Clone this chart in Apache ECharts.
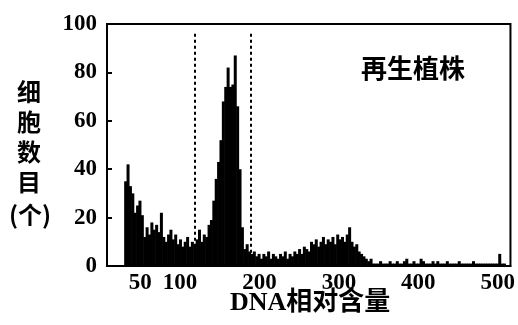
<!DOCTYPE html>
<html>
<head>
<meta charset="utf-8">
<script src="https://cdn.jsdelivr.net/npm/echarts@6/dist/echarts.min.js"></script>
<style>
  html, body { margin: 0; padding: 0; background: #fff; }
  #chart { width: 518px; height: 325px; }
</style>
</head>
<body>
<div id="chart"></div>
<script>
// histogram bins: DNA relative content, 3 units per bin starting at 30
const binStart = 30;
const binWidth = 3;
const cellCounts = [
  35, 42, 33, 30, 22, 25, 27, 21, 12, 16,
  13, 18, 15, 17, 14, 22, 12, 10, 13, 15,
  11, 13, 9, 11, 8, 10, 12, 8, 10, 9,
  11, 15, 10, 13, 12, 17, 19, 27, 36, 43,
  52, 68, 74, 82, 74, 75, 87, 66, 40, 16,
  7, 9, 6, 5, 6, 4, 5, 3, 5, 4,
  6, 3, 5, 4, 3, 5, 4, 6, 3, 5,
  4, 6, 5, 7, 5, 8, 7, 6, 10, 9,
  11, 8, 10, 12, 9, 11, 10, 12, 9, 13,
  11, 12, 10, 13, 16, 10, 8, 9, 6, 5,
  4, 3, 2, 3, 1, 1, 1, 2, 1, 1,
  1, 2, 1, 1, 2, 1, 1, 2, 3, 1,
  1, 2, 1, 1, 3, 2, 1, 1, 1, 2,
  1, 2, 1, 1, 1, 2, 1, 1, 1, 1,
  2, 1, 1, 1, 1, 1, 2, 1, 1, 1,
  1, 1, 1, 1, 1, 1, 1, 5, 1, 1
];
const xTicks = [50, 100, 200, 300, 400, 500];
const gateLines = [119, 189];
const sampleLabel = '再生植株';

const seriesData = cellCounts.map((c, i) => [binStart + binWidth * i + binWidth / 2, c]);

const chart = echarts.init(document.getElementById('chart'));
const serif = '"Liberation Serif", "Noto Sans CJK SC", serif';

chart.setOption({
  animation: false,
  grid: {
    left: 107, right: 7, top: 24, bottom: 59,
    show: true, borderColor: '#000', borderWidth: 2
  },
  xAxis: {
    type: 'value',
    min: 8,
    max: 516,
    axisLine: {lineStyle: {color: '#000', width: 2}},
    axisTick: {show: false},
    splitLine: {show: false},
    axisLabel: {
      customValues: xTicks,
      color: '#000',
      fontFamily: serif,
      fontWeight: 'bold',
      fontSize: 23,
      margin: 6
    }
  },
  yAxis: {
    type: 'value',
    min: 0,
    max: 100,
    interval: 20,
    axisLine: {show: true, lineStyle: {color: '#000', width: 2}},
    axisTick: {show: true, inside: true, length: 5, lineStyle: {color: '#000', width: 2}},
    splitLine: {show: false},
    axisLabel: {
      color: '#000',
      fontFamily: serif,
      fontWeight: 'bold',
      fontSize: 23,
      margin: 10
    }
  },
  series: [{
    type: 'bar',
    data: seriesData,
    barWidth: 3,
    itemStyle: {color: '#000'},
    markLine: {
      silent: true,
      symbol: 'none',
      label: {show: false},
      lineStyle: {color: '#000', type: [3, 3], width: 2},
      data: gateLines.map(v => [{coord: [v, 96]}, {coord: [v, 0]}])
    }
  }],
  graphic: [
    {
      type: 'text', left: 361, top: 55,
      style: {text: sampleLabel, font: 'bold 26px "Noto Sans CJK SC"', fill: '#000'}
    },
    {
      type: 'text', left: 17, top: 77,
      style: {
        text: '细\n胞\n数\n目', font: 'bold 24px "Noto Sans CJK SC"', fill: '#000',
        lineHeight: 30
      }
    },
    {
      type: 'text', left: 9, top: 203,
      style: {text: '(个)', font: 'bold 24px "Noto Sans CJK SC"', fill: '#000'}
    },
    {
      type: 'text', left: 230, top: 290,
      style: {text: 'DNA相对含量', font: 'bold 26px ' + serif, fill: '#000'}
    }
  ]
});
</script>
</body>
</html>
